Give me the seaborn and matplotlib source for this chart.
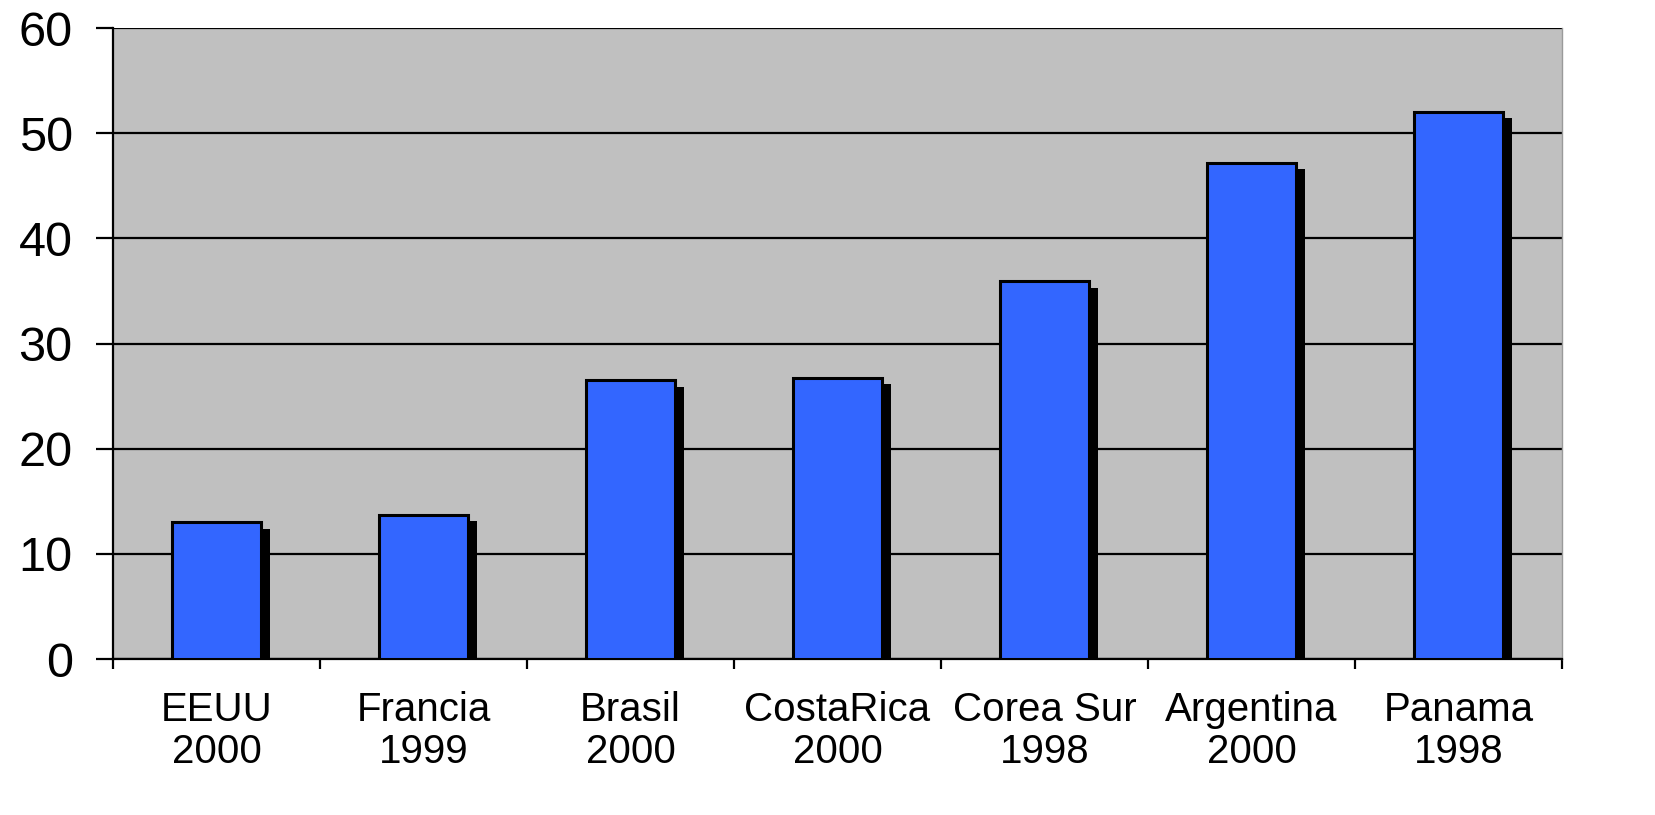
import seaborn as sns
import matplotlib.pyplot as plt
import matplotlib.patheffects as pe
import numpy as np
import pandas as pd

# datos
paises = ['EEUU', 'Francia', 'Brasil', 'CostaRica', 'Corea Sur', 'Argentina', 'Panama']
anios = ['2000', '1999', '2000', '2000', '1998', '2000', '1998']
valores = [13.0, 13.7, 26.5, 26.7, 35.9, 47.2, 52.0]

etiquetas = [f'{p}\n{a}' for p, a in zip(paises, anios)]
df = pd.DataFrame({'pais': etiquetas, 'valor': valores})

plt.rcParams['font.family'] = ['Liberation Sans', 'DejaVu Sans']

fig = plt.figure(figsize=(16.56, 8.15), dpi=100)
ax = fig.add_axes([0.0682, 0.1914, 0.875, 0.7742])
ax.set_facecolor('#C0C0C0')

sns.barplot(data=df, x='pais', y='valor', color='#3366FF', saturation=1,
            edgecolor='black', linewidth=2.2, width=0.43, ax=ax, zorder=3)

# sombra negra de las barras
for bar in ax.patches:
    bar.set_path_effects([pe.SimplePatchShadow(offset=(6.5, -4.5), shadow_rgbFace='black', alpha=1),
                          pe.Normal()])

ax.set_ylim(0, 60)
ax.set_xlim(-0.5, len(paises) - 0.5)
ax.set_yticks(range(0, 61, 10))
ax.yaxis.grid(True, color='black', linewidth=1.6, zorder=1)
ax.set_axisbelow(True)

ax.set_xticks(np.arange(-0.5, len(paises), 1), minor=True)
ax.tick_params(axis='x', which='major', length=0, pad=23, labelsize=29)
ax.tick_params(axis='x', which='minor', length=7, width=1.6, color='black')
ax.tick_params(axis='y', length=12, width=1.6, pad=17, labelsize=35)
ax.set_xlabel('')
ax.set_ylabel('')
for lab in ax.get_xticklabels():
    lab.set_linespacing(1.15)

ax.spines['top'].set_visible(False)
ax.spines['right'].set_color('#9a9a9a')
ax.spines['right'].set_linewidth(1)
ax.spines['left'].set_linewidth(1.6)
ax.spines['bottom'].set_linewidth(1.6)

plt.savefig('out.png', dpi=100)
plt.close()
